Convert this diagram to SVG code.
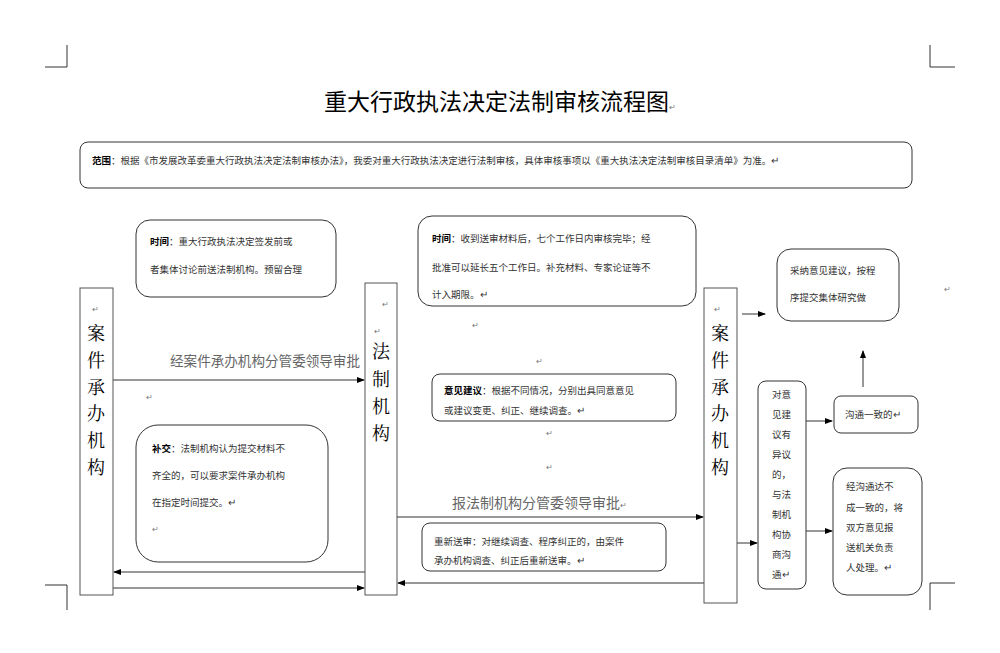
<svg xmlns="http://www.w3.org/2000/svg" width="1000" height="653" viewBox="0 0 1000 653">
<style>
text{font-family:"Noto Sans CJK SC","Liberation Sans",sans-serif;fill:#333}
.s{font-size:9.5px}
.b{font-weight:bold;fill:#000}
.big{font-size:18px;fill:#000;font-family:"Noto Serif CJK SC","Noto Sans CJK SC",serif}
.box{fill:#fff;stroke:#333;stroke-width:1}
.bar{fill:#fff;stroke:#555;stroke-width:1}
.ln{stroke:#333;stroke-width:1;fill:none}
.lbl{font-size:14px;fill:#666}
.pm{font-size:8px;fill:#777}
</style>
<defs><marker id="a" markerWidth="8" markerHeight="8" refX="7" refY="4" orient="auto" markerUnits="userSpaceOnUse"><path d="M0,1 L8,4 L0,7z" fill="#000"/></marker></defs>
<rect width="1000" height="653" fill="#fff"/>
<g class="ln" stroke="#888">
<path d="M45,67H67V45M955,67H930V45M45,585H67V610M955,583H930V610"/>
</g>
<text x="500" y="110" text-anchor="middle" font-size="23" style="fill:#000">重大行政执法决定法制审核流程图<tspan class="pm">↵</tspan></text>
<g id="scope"><rect class="box" x="80" y="142" width="832" height="46" rx="8"/>
<text x="92" y="164" class="s"><tspan class="b">范围</tspan>：根据《市发展改革委重大行政执法决定法制审核办法》，我委对重大行政执法决定进行法制审核，具体审核事项以《重大执法决定法制审核目录清单》为准。↵</text></g>
<text x="170" y="366" class="lbl" textLength="190" lengthAdjust="spacingAndGlyphs">经案件承办机构分管委领导审批</text>
<g id="connectors">
<path class="ln" d="M113,380H364" marker-end="url(#a)"/>
<path class="ln" d="M365,572H114" marker-end="url(#a)"/>
<path class="ln" d="M113,588H364" marker-end="url(#a)"/>
<path class="ln" d="M397,517H703" marker-end="url(#a)"/>
<path class="ln" d="M704,583H398" marker-end="url(#a)"/>
<path class="ln" d="M742,314H765" marker-end="url(#a)"/>
<path class="ln" d="M737,543H757" marker-end="url(#a)"/>
<path class="ln" d="M806,421H832" marker-end="url(#a)"/>
<path class="ln" d="M863,387V351" marker-end="url(#a)"/>
<path class="ln" d="M806,531H832" marker-end="url(#a)"/>
</g>
<g id="bar1"><rect class="bar" x="80" y="288" width="33" height="307"/>
<text class="pm" x="92" y="312">↵</text>
<text class="big"><tspan x="87" y="340">案</tspan><tspan x="87" y="367">件</tspan><tspan x="87" y="394">承</tspan><tspan x="87" y="420">办</tspan><tspan x="87" y="447">机</tspan><tspan x="87" y="474">构</tspan></text></g>
<g id="time1"><rect class="box" x="136" y="220" width="200" height="77" rx="14"/>
<text class="s" x="150" y="245"><tspan class="b">时间</tspan>：重大行政执法决定签发前或</text>
<text class="s" x="150" y="273">者集体讨论前送法制机构。预留合理</text></g>
<g id="bujiao"><rect class="box" x="136" y="425" width="192" height="137" rx="22"/>
<text class="s" x="152" y="452"><tspan class="b">补交</tspan>：法制机构认为提交材料不</text>
<text class="s" x="152" y="479">齐全的，可以要求案件承办机构</text>
<text class="s" x="152" y="506">在指定时间提交。↵</text>
<text class="pm" x="152" y="532">↵</text></g>
<text class="pm" x="146" y="400">↵</text>
<g id="bar2"><rect class="bar" x="365" y="283" width="32" height="312"/>
<text class="pm" x="382" y="307">↵</text><text class="pm" x="374" y="334">↵</text>
<text class="big"><tspan x="372" y="358">法</tspan><tspan x="372" y="386">制</tspan><tspan x="372" y="413">机</tspan><tspan x="372" y="440">构</tspan></text></g>
<g id="time2"><rect class="box" x="418" y="216" width="278" height="90" rx="14"/>
<text class="s" x="432" y="242"><tspan class="b">时间</tspan>：收到送审材料后，七个工作日内审核完毕；经</text>
<text class="s" x="432" y="271">批准可以延长五个工作日。补充材料、专家论证等不</text>
<text class="s" x="432" y="298">计入期限。↵</text></g>
<text class="pm" x="472" y="328">↵</text><text class="pm" x="536" y="364">↵</text>
<g id="yijian"><rect class="box" x="432" y="374" width="244" height="47" rx="8"/>
<text class="s" x="444" y="394"><tspan class="b">意见建议</tspan>：根据不同情况，分别出具同意意见</text>
<text class="s" x="444" y="414">或建议变更、纠正、继续调查。↵</text></g>
<text class="pm" x="546" y="436">↵</text><text class="pm" x="546" y="470">↵</text>
<text class="lbl" x="452" y="508">报法制机构分管委领导审批<tspan class="pm">↵</tspan></text>
<g id="resend"><rect class="box" x="422" y="523" width="244" height="48" rx="8"/>
<text class="s" x="434" y="545">重新送审：对继续调查、程序纠正的，由案件</text>
<text class="s" x="434" y="564">承办机构调查、纠正后重新送审。↵</text></g>
<g id="bar3"><rect class="bar" x="704" y="288" width="33" height="315"/>
<text class="pm" x="714" y="312">↵</text>
<text class="big"><tspan x="711" y="340">案</tspan><tspan x="711" y="367">件</tspan><tspan x="711" y="394">承</tspan><tspan x="711" y="420">办</tspan><tspan x="711" y="447">机</tspan><tspan x="711" y="474">构</tspan></text></g>
<g id="caina"><rect class="box" x="777" y="249" width="122" height="72" rx="14"/>
<text class="s" x="790" y="274">采纳意见建议，按程</text>
<text class="s" x="790" y="301">序提交集体研究做</text></g>
<text class="pm" x="944" y="292">↵</text>
<g id="duiyi"><rect class="box" x="758" y="381" width="48" height="208" rx="8"/>
<text class="s"><tspan x="772" y="398">对意</tspan><tspan x="772" y="418">见建</tspan><tspan x="772" y="438">议有</tspan><tspan x="772" y="458">异议</tspan><tspan x="772" y="478">的，</tspan><tspan x="772" y="498">与法</tspan><tspan x="772" y="518">制机</tspan><tspan x="772" y="538">构协</tspan><tspan x="772" y="558">商沟</tspan><tspan x="772" y="578">通↵</tspan></text></g>
<g id="yizhi"><rect class="box" x="834" y="396" width="84" height="37" rx="7"/>
<text class="s" x="845" y="418">沟通一致的↵</text></g>
<g id="butong"><rect class="box" x="833" y="468" width="89" height="127" rx="14"/>
<text class="s" x="846" y="490">经沟通达不</text>
<text class="s" x="846" y="511">成一致的，将</text>
<text class="s" x="846" y="531">双方意见报</text>
<text class="s" x="846" y="551">送机关负责</text>
<text class="s" x="846" y="571">人处理。↵</text></g>
</svg>
